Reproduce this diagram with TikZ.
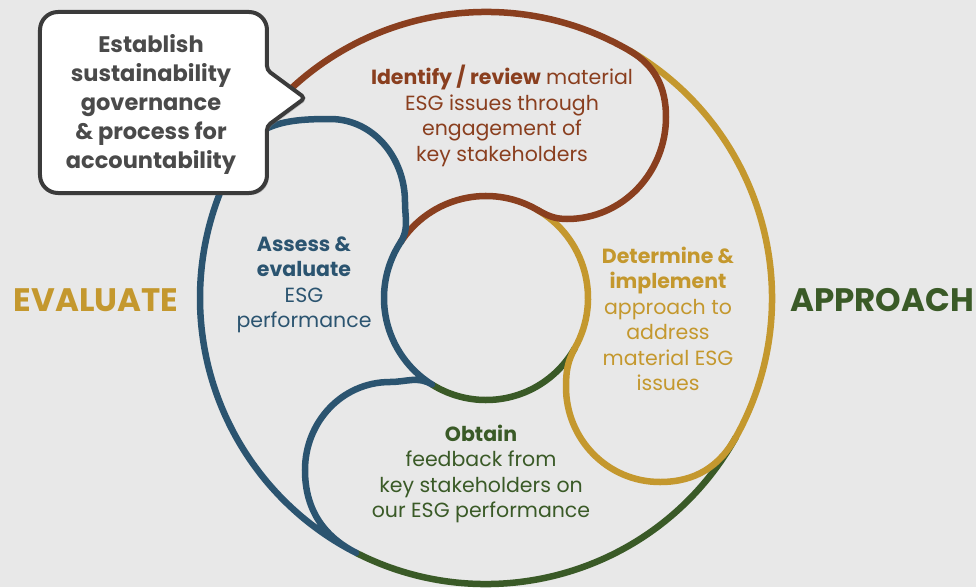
\documentclass[tikz,border=0pt]{standalone}
\usepackage{fontspec}
\setmainfont{Poppins}
\usetikzlibrary{shadows}

\definecolor{esgbrown}{HTML}{8A3F1F}
\definecolor{esggold}{HTML}{C4982E}
\definecolor{esggreen}{HTML}{3A5A27}
\definecolor{esgblue}{HTML}{2B5470}
\definecolor{esgbg}{HTML}{E8E8E8}
\definecolor{esgdark}{HTML}{4A4A4A}

\tikzset{
	ring/.style={line width=6.5pt, line join=round},
	stagetext/.style={align=center, inner sep=0pt, font=\fontsize{20.5}{25.5}\selectfont},
	bigword/.style={inner sep=0pt, font=\fontsize{32.5}{40}\selectfont\bfseries},
	callout/.style={draw=esgdark!80!black, line width=4pt, fill=white, drop shadow={opacity=0.35, shadow xshift=2pt, shadow yshift=-2pt}}
}

\begin{document}
\begin{tikzpicture}[x=1pt, y=1pt]
	\useasboundingbox (-486,-289) rectangle (490,298);
	\fill[esgbg] (-486,-289) rectangle (490,298);
	
	\coordinate (J1) at (60:286);
	\coordinate (J2) at (-29:286);
	\coordinate (J3) at (-117:286);
	\coordinate (J4) at (150:286);
	\coordinate (I1) at (60:102);
	\coordinate (I2) at (-29:102);
	\coordinate (I3) at (-122:102);
	\coordinate (I4) at (147:102);
	
	\draw[ring, esggreen] (J2) arc[start angle=-29, end angle=-117, radius=286];
	\draw[ring, esggreen] (I3) arc[start angle=-122, end angle=-29, radius=102];
	
	\draw[ring, esggold] (J1) arc[start angle=60, end angle=-29, radius=286]
		to[out=-119, in=0] (174,-184) to[out=180, in=-90] (80,-89) to[out=90, in=-119] (I2)
		arc[start angle=-29, end angle=60, radius=102];
	
	\draw[ring, esgbrown] (J4) arc[start angle=150, end angle=60, radius=286]
		to[out=-30, in=90] (180,181) to[out=-90, in=0] (81,79) to[out=180, in=-30] (I1)
		arc[start angle=60, end angle=147, radius=102];
	
	\draw[ring, esgblue] (J4) arc[start angle=150, end angle=243, radius=286]
		to[out=153, in=-90] (-181,-172) to[out=90, in=180] (-96,-84) to[out=0, in=148] (I3)
		arc[start angle=238, end angle=147, radius=102]
		to[out=57, in=-90] (-81,96) to[out=90, in=0] (-156,179) to[out=180, in=60] (J4);
	
	\draw[callout, rounded corners=18pt] (-332,286) -- (-219,286) [rounded corners=4pt] -- (-219,228) -- (-181,200) -- (-219,172) [rounded corners=18pt] -- (-219,105) -- (-446,105) -- (-446,286) -- cycle;
	\node[stagetext, text=esgdark, font=\fontsize{22.5}{29}\selectfont\bfseries] (governance) at (-335,194) {Establish\\sustainability\\governance\\\& process for\\accountability};
	
	\node[stagetext, text=esgbrown] (identify) at (16,182) {\textbf{Identify / review} material\\ESG issues through\\engagement of\\key stakeholders};
	\node[stagetext, text=esgblue] (assess) at (-182,13) {\textbf{Assess \&}\\\textbf{evaluate}\\ESG\\performance};
	\node[stagetext, text=esggold] (determine) at (182,-21) {\textbf{Determine \&}\\\textbf{implement}\\approach to\\address\\material ESG\\issues};
	\node[stagetext, text=esggreen] (obtain) at (-5,-176) {\textbf{Obtain}\\feedback from\\key stakeholders on\\our ESG performance};
	
	\node[bigword, text=esggold] (evaluate) at (-390,-2) {EVALUATE};
	\node[bigword, text=esggreen] (approach) at (396,-2) {APPROACH};
	
\end{tikzpicture}
\end{document}
